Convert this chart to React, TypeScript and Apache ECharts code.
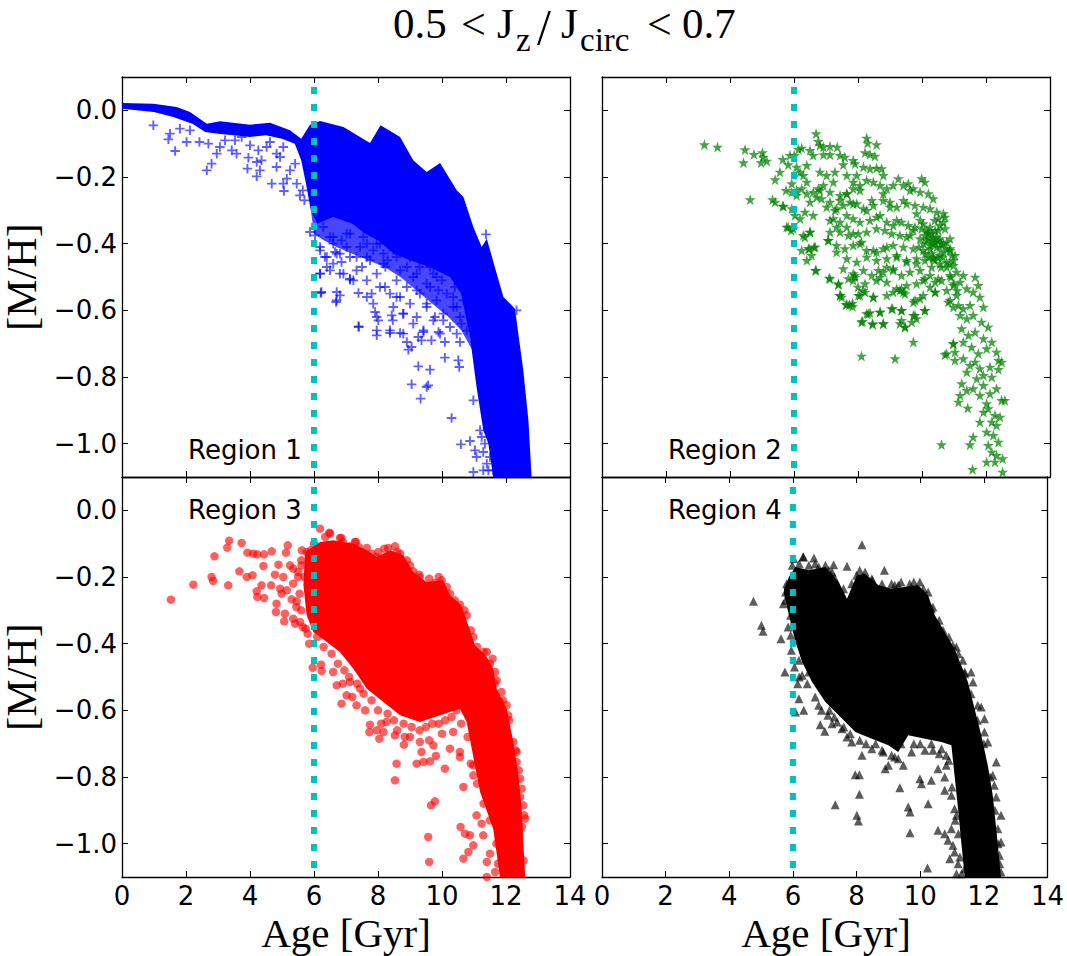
import React, { useEffect, useRef } from 'react';
import * as echarts from 'echarts';

// ---------- data ----------
const xTicks = [0, 2, 4, 6, 8, 10, 12, 14];
const yTicks = [-1.0, -0.8, -0.6, -0.4, -0.2, 0.0];
const xMin = 0;
const xMax = 14;
const yMin = -1.1;
const yMax = 0.1;
const cutAge = 6;
const regionNames = ['Region 1', 'Region 2', 'Region 3', 'Region 4'];

// dense core outlines (age, [M/H])
const region1Core = [
  [0, 0.022], [0.98, 0.02], [1.71, 0.01], [2.125, -0.005], [2.65, -0.04], [3.06, -0.033], [4.0, -0.043], [4.625, -0.037],
  [5.25, -0.06], [5.6, -0.085], [5.875, -0.043], [6.19, -0.032], [6.92, -0.05], [7.75, -0.098], [8.08, -0.045], [8.69, -0.08],
  [9.1, -0.15], [9.52, -0.185], [9.94, -0.158], [10.46, -0.24], [10.67, -0.26], [10.98, -0.35], [11.24, -0.41], [11.4, -0.385],
  [11.71, -0.49], [11.92, -0.56], [12.28, -0.595], [12.54, -0.78], [12.7, -0.93], [12.8, -1.1], [11.6, -1.1],
  [11.45, -1.0], [11.29, -0.96], [11.08, -0.83], [10.875, -0.68], [10.6, -0.55], [10.25, -0.5], [9.6, -0.47], [9.0, -0.45],
  [8.5, -0.43], [8.0, -0.39], [7.6, -0.37], [7.2, -0.34], [6.6, -0.32], [6.1, -0.34], [5.9, -0.3], [5.75, -0.22], [5.6, -0.15],
  [5.4, -0.1], [5.0, -0.085], [4.5, -0.075], [4.0, -0.08], [3.5, -0.075], [3.0, -0.07], [2.6, -0.065], [2.2, -0.04], [1.6, -0.02],
  [1.0, -0.005], [0, 0.005],
];

// semi-dense zone just below the Region 1 core
const region1Halo = [
  [5.9, -0.3], [7.2, -0.32], [8.5, -0.4], [9.6, -0.44], [10.6, -0.52], [10.95, -0.72], [10.6, -0.66], [10.2, -0.62],
  [9.7, -0.58], [9.2, -0.54], [8.7, -0.5], [8.2, -0.47], [7.7, -0.45], [7.2, -0.43], [6.7, -0.41], [6.3, -0.39], [6.0, -0.37],
];

const region3Core = [
  [5.72, -0.125], [6.19, -0.095], [6.6, -0.09], [7.23, -0.1], [7.65, -0.12], [7.96, -0.14], [8.38, -0.12], [8.79, -0.135],
  [9.1, -0.185], [9.52, -0.215], [10.04, -0.21], [10.25, -0.255], [10.6, -0.285], [10.82, -0.345], [11.03, -0.405], [11.4, -0.44],
  [11.6, -0.475], [11.71, -0.535], [12.02, -0.595], [12.23, -0.695], [12.39, -0.795], [12.49, -0.895], [12.54, -0.995], [12.6, -1.1],
  [11.81, -1.1], [11.6, -0.955], [11.19, -0.845], [10.93, -0.715], [10.77, -0.635], [10.56, -0.595], [9.94, -0.615], [9.31, -0.635],
  [8.69, -0.615], [8.17, -0.575], [7.65, -0.535], [7.23, -0.475], [6.81, -0.425], [6.4, -0.395], [5.98, -0.365], [5.77, -0.315],
  [5.67, -0.225],
];

const region4Core = [
  [5.72, -0.235], [5.875, -0.2], [6.08, -0.17], [6.5, -0.18], [7.02, -0.17], [7.44, -0.215], [7.7, -0.265], [8.01, -0.195],
  [8.27, -0.19], [8.69, -0.225], [9.1, -0.235], [9.52, -0.23], [9.94, -0.225], [10.25, -0.255], [10.46, -0.315], [10.77, -0.365],
  [11.08, -0.415], [11.29, -0.465], [11.5, -0.515], [11.71, -0.595], [11.92, -0.675], [12.125, -0.765], [12.28, -0.855], [12.39, -0.955],
  [12.54, -1.1], [11.4, -1.1], [11.29, -0.995], [11.19, -0.895], [11.08, -0.795], [10.98, -0.705], [10.67, -0.695], [10.15, -0.685],
  [9.625, -0.675], [9.31, -0.725], [9.0, -0.705], [8.48, -0.685], [7.96, -0.665], [7.44, -0.615], [7.02, -0.575], [6.6, -0.515],
  [6.29, -0.455], [6.08, -0.395], [5.875, -0.315], [5.72, -0.25],
];

const region1Points = [
  [0.98, -0.045], [1.5, -0.07], [1.45, -0.087], [1.66, -0.122], [1.81, -0.055], [2.02, -0.095], [2.125, -0.06], [2.42, -0.095],
  [2.65, -0.18], [2.7, -0.1], [2.8, -0.16], [2.96, -0.13], [3.06, -0.11], [3.22, -0.09], [3.43, -0.12], [3.58, -0.13], [3.53, -0.09],
  [3.95, -0.142], [3.92, -0.175], [4.21, -0.198], [4.31, -0.18], [4.0, -0.105], [4.36, -0.15], [4.26, -0.12], [4.68, -0.22],
  [4.83, -0.17], [4.94, -0.14], [5.04, -0.11], [5.04, -0.22], [5.15, -0.205], [5.06, -0.242], [5.25, -0.18], [5.41, -0.16],
  [5.46, -0.22], [5.56, -0.255], [4.625, -0.095], [4.83, -0.13], [4.52, -0.11], [3.74, -0.08], [4.21, -0.155], [5.7, -0.27], [5.65, -0.24],
  [5.875, -0.365], [6.03, -0.375], [6.19, -0.42], [6.29, -0.35], [6.5, -0.38], [6.6, -0.4], [6.4, -0.44], [6.71, -0.43], [6.86, -0.455],
  [6.81, -0.49], [7.02, -0.37], [7.125, -0.44], [7.33, -0.48], [7.44, -0.41], [7.65, -0.44], [7.54, -0.38], [7.96, -0.4], [8.17, -0.46],
  [8.27, -0.37], [8.48, -0.42], [8.69, -0.48], [8.79, -0.4], [9.0, -0.44], [9.21, -0.49], [9.42, -0.42], [9.625, -0.47], [9.83, -0.5],
  [10.04, -0.44], [10.25, -0.48], [11.375, -0.372], [6.4, -0.47], [6.5, -0.48],
  [6.19, -0.49], [6.21, -0.548], [6.71, -0.545], [6.69, -0.575], [6.81, -0.555], [7.125, -0.508], [7.39, -0.548], [7.39, -0.648],
  [7.65, -0.56], [7.85, -0.58], [7.91, -0.605], [7.96, -0.66], [8.01, -0.63], [7.96, -0.675], [8.22, -0.53], [8.43, -0.615],
  [8.46, -0.63], [8.375, -0.668], [8.69, -0.668], [8.58, -0.56], [8.79, -0.61], [8.9, -0.695], [8.95, -0.718], [9.05, -0.71],
  [9.1, -0.64], [9.26, -0.768], [9.05, -0.822], [9.36, -0.69], [9.42, -0.665], [9.625, -0.778], [9.57, -0.825], [9.52, -0.83],
  [9.33, -0.865], [9.67, -0.69], [9.78, -0.62], [9.89, -0.665], [10.09, -0.742], [10.09, -0.695], [10.3, -0.923], [10.51, -0.75],
  [10.54, -0.77], [10.56, -0.695], [10.61, -0.64], [10.59, -1.002], [10.875, -0.992], [10.98, -0.87], [11.03, -1.02], [11.08, -1.04],
  [10.98, -1.085], [11.19, -0.96], [11.29, -1.025], [11.4, -1.06], [12.33, -0.6], [10.35, -0.56], [10.46, -0.59], [9.52, -0.58],
  [10.04, -0.63], [9.21, -0.54], [9.52, -0.52], [9.89, -0.54], [11.24, -0.98], [11.34, -1.0], [11.5, -1.04], [11.6, -1.08],
  [11.45, -1.08], [11.29, -1.08],
  [6.19, -0.41], [6.34, -0.44], [6.6, -0.38], [6.6, -0.46], [6.66, -0.425], [6.92, -0.49], [6.86, -0.39], [7.125, -0.37],
  [7.125, -0.505], [7.02, -0.41], [7.33, -0.44], [7.5, -0.47], [7.65, -0.4], [7.75, -0.45], [7.8, -0.55], [7.96, -0.49],
  [8.06, -0.53], [8.17, -0.43], [8.23, -0.47], [8.375, -0.55], [8.48, -0.59], [8.58, -0.51], [8.69, -0.56], [8.79, -0.61],
  [8.9, -0.53], [9.0, -0.58], [9.1, -0.5], [9.21, -0.62], [9.31, -0.55], [9.42, -0.66], [9.52, -0.59], [9.625, -0.53],
  [9.73, -0.63], [9.83, -0.57], [9.94, -0.67], [10.04, -0.61], [10.15, -0.55], [10.25, -0.65], [10.35, -0.59], [10.46, -0.67],
  [10.56, -0.62], [10.67, -0.57], [10.77, -0.66], [7.96, -0.62], [7.4, -0.65], [6.71, -0.57], [6.23, -0.545], [6.19, -0.49],
  [7.23, -0.51], [8.375, -0.66], [8.79, -0.67], [9.26, -0.68], [6.81, -0.43], [8.06, -0.4], [8.58, -0.44], [7.65, -0.51],
  [9.16, -0.44], [9.73, -0.49], [8.9, -0.47], [9.3, -0.47], [10.0, -0.51], [10.4, -0.53], [8.3, -0.45], [7.85, -0.42],
];

const region2Points = [
  [3.2, -0.103], [3.61, -0.11], [4.47, -0.118], [4.75, -0.132], [4.42, -0.157], [5.01, -0.127], [5.04, -0.14], [4.97, -0.157],
  [5.15, -0.152], [4.63, -0.268], [5.33, -0.268], [5.41, -0.275], [5.65, -0.287], [5.41, -0.208], [5.56, -0.185], [5.65, -0.147],
  [5.82, -0.163], [5.875, -0.135], [5.77, -0.35], [5.91, -0.36], [5.75, -0.24], [5.93, -0.22], [6.01, -0.135], [6.14, -0.117],
  [6.24, -0.113], [6.08, -0.17], [6.19, -0.185], [6.29, -0.195], [6.4, -0.165], [5.93, -0.245], [6.08, -0.255], [6.24, -0.235],
  [6.4, -0.215], [5.93, -0.295], [6.03, -0.315], [6.19, -0.325], [6.34, -0.305], [6.5, -0.275], [6.6, -0.245], [6.76, -0.235],
  [6.86, -0.265], [6.6, -0.315], [6.5, -0.365], [6.34, -0.38], [6.48, -0.415], [6.625, -0.41], [6.4, -0.45], [6.67, -0.48],
  [6.24, -0.42], [6.69, -0.07], [6.76, -0.093], [6.81, -0.105], [6.92, -0.11], [7.125, -0.108], [7.35, -0.11], [7.125, -0.133],
  [6.92, -0.133], [6.6, -0.135], [6.5, -0.12], [7.44, -0.135], [7.59, -0.14], [7.85, -0.15], [7.91, -0.16], [7.54, -0.163],
  [8.27, -0.083], [8.3, -0.098], [8.58, -0.103], [8.22, -0.127], [8.375, -0.132], [8.53, -0.137], [8.17, -0.17], [8.375, -0.175],
  [8.58, -0.173], [8.74, -0.175], [8.79, -0.195], [7.65, -0.195], [7.96, -0.195], [7.85, -0.215], [7.23, -0.215], [7.02, -0.195],
  [6.81, -0.185], [7.28, -0.185],
  [6.92, -0.225], [7.125, -0.245], [7.44, -0.255], [7.65, -0.25], [7.85, -0.235], [8.06, -0.225], [8.27, -0.21], [8.48, -0.215],
  [8.69, -0.225], [8.9, -0.235], [9.1, -0.225], [9.26, -0.205], [9.42, -0.225], [9.57, -0.22], [9.73, -0.235], [9.99, -0.205],
  [10.09, -0.215], [9.94, -0.245], [10.2, -0.25], [10.35, -0.265], [7.125, -0.275], [7.33, -0.295], [7.54, -0.285], [7.75, -0.275],
  [7.96, -0.28], [8.17, -0.295], [8.48, -0.285], [8.79, -0.27], [9.0, -0.275], [9.21, -0.29], [9.52, -0.28], [9.78, -0.285],
  [10.04, -0.29], [10.25, -0.295], [10.46, -0.305], [10.67, -0.31], [7.23, -0.325], [7.44, -0.335], [7.65, -0.315], [7.85, -0.325],
  [8.06, -0.335], [8.375, -0.33], [8.69, -0.315], [8.9, -0.335], [9.1, -0.345], [9.36, -0.335], [9.57, -0.345], [9.78, -0.35],
  [9.99, -0.355], [10.2, -0.365], [10.41, -0.36], [10.56, -0.345], [10.72, -0.355], [7.125, -0.365], [7.44, -0.365], [7.7, -0.375],
  [8.01, -0.37], [8.27, -0.365], [8.58, -0.355], [8.84, -0.36], [9.05, -0.37], [9.31, -0.375], [9.625, -0.375], [9.94, -0.385],
  [10.15, -0.39], [10.35, -0.38], [10.56, -0.385], [10.77, -0.395], [10.875, -0.385], [7.07, -0.39], [7.33, -0.405], [7.59, -0.415],
  [7.85, -0.405], [8.11, -0.395], [8.48, -0.42], [8.79, -0.415], [9.1, -0.405], [9.42, -0.41], [9.73, -0.415], [10.04, -0.42],
  [10.25, -0.415], [10.46, -0.41], [10.67, -0.425], [10.875, -0.415], [11.03, -0.435],
  [10.09, -0.375], [10.2, -0.385], [10.3, -0.37], [10.41, -0.395], [10.51, -0.39], [10.35, -0.4], [10.25, -0.405], [10.61, -0.4],
  [10.77, -0.415], [10.93, -0.435], [10.98, -0.45], [10.67, -0.335], [10.51, -0.325], [10.72, -0.32],
  [7.33, -0.425], [7.65, -0.445], [7.96, -0.455], [8.27, -0.44], [8.58, -0.45], [8.9, -0.445], [9.21, -0.435], [9.52, -0.455],
  [9.83, -0.445], [10.09, -0.45], [10.35, -0.445], [7.54, -0.475], [7.85, -0.49], [8.17, -0.48], [8.43, -0.495], [8.79, -0.485],
  [9.1, -0.475], [9.36, -0.495], [9.625, -0.485], [9.94, -0.48], [10.25, -0.495], [10.51, -0.505], [7.1, -0.503], [7.39, -0.523],
  [7.7, -0.505], [7.91, -0.5], [8.22, -0.52], [8.58, -0.51], [8.9, -0.515], [9.21, -0.535], [9.52, -0.525], [9.83, -0.52],
  [10.09, -0.505], [10.41, -0.515], [7.44, -0.555], [7.73, -0.583], [7.625, -0.583], [7.83, -0.578], [8.01, -0.555], [8.22, -0.545],
  [8.48, -0.56], [8.9, -0.555], [9.1, -0.545], [9.31, -0.54], [9.42, -0.545], [9.73, -0.575], [10.04, -0.555], [10.41, -0.545],
  [8.27, -0.61], [8.375, -0.607], [8.69, -0.605], [9.08, -0.595], [9.36, -0.6], [9.78, -0.615], [10.09, -0.6], [8.11, -0.635],
  [8.45, -0.64], [8.79, -0.64], [9.36, -0.63], [9.47, -0.65], [9.68, -0.635], [9.73, -0.695], [8.11, -0.737], [9.16, -0.745],
  [10.56, -0.435], [10.77, -0.455], [10.98, -0.465], [11.08, -0.485], [11.29, -0.495], [11.66, -0.5], [11.76, -0.525], [10.875, -0.495],
  [10.98, -0.525], [11.19, -0.515], [11.4, -0.535], [11.6, -0.545], [11.81, -0.56], [10.82, -0.575], [11.08, -0.555], [11.14, -0.585],
  [11.29, -0.595], [11.5, -0.585], [11.92, -0.59], [11.19, -0.615], [11.4, -0.625], [11.6, -0.615], [11.86, -0.635], [12.07, -0.65],
  [11.24, -0.655], [11.45, -0.675], [11.66, -0.665], [11.92, -0.685], [12.18, -0.695], [11.29, -0.695], [11.55, -0.71], [11.76, -0.73],
  [12.02, -0.715], [10.98, -0.7], [10.72, -0.733], [11.03, -0.75], [11.29, -0.745], [11.5, -0.765], [11.66, -0.755], [11.81, -0.775],
  [12.125, -0.77], [12.39, -0.75], [12.33, -0.725], [12.49, -0.755], [11.4, -0.785], [11.71, -0.805], [11.92, -0.795], [12.18, -0.8],
  [12.39, -0.777], [11.24, -0.82], [11.19, -0.855], [11.4, -0.84], [11.6, -0.835], [11.92, -0.825], [12.125, -0.85], [12.33, -0.835],
  [11.14, -0.875], [11.43, -0.893], [11.81, -0.855], [12.02, -0.88], [12.49, -0.87], [12.59, -0.87], [11.92, -0.905], [12.07, -0.895],
  [12.28, -0.915], [12.44, -0.92], [11.81, -0.935], [12.18, -0.935], [12.33, -0.945], [11.6, -0.98], [11.5, -1.003], [12.02, -0.965],
  [12.23, -0.975], [12.39, -0.995], [12.07, -1.005], [12.18, -1.025], [12.33, -1.035], [12.28, -1.055], [12.02, -1.055], [12.52, -1.045],
  [11.58, -1.077], [12.52, -1.085], [10.61, -1.003],
  [5.67, -0.288], [5.82, -0.35], [5.98, -0.355], [6.29, -0.375], [6.5, -0.365], [6.45, -0.415], [6.66, -0.41], [6.55, -0.435],
  [6.69, -0.48], [7.07, -0.39], [7.125, -0.505], [7.39, -0.52], [7.44, -0.555], [7.49, -0.56], [7.65, -0.582], [7.83, -0.588],
  [7.85, -0.51], [7.9, -0.495], [8.0, -0.53], [8.06, -0.555], [8.16, -0.54], [8.32, -0.61], [8.14, -0.633], [8.46, -0.642],
  [8.48, -0.56], [8.69, -0.605], [8.79, -0.64], [8.64, -0.48], [8.69, -0.5], [8.9, -0.47], [9.1, -0.48], [9.05, -0.595],
  [9.36, -0.6], [9.31, -0.64], [9.47, -0.65], [9.73, -0.615], [9.83, -0.625], [9.36, -0.535], [9.47, -0.55], [9.78, -0.57],
  [9.94, -0.565], [10.09, -0.6], [10.04, -0.51], [10.25, -0.53], [10.41, -0.545], [10.61, -0.51], [10.77, -0.54], [10.875, -0.57],
  [10.98, -0.59], [10.35, -0.44], [10.56, -0.46], [10.77, -0.47], [10.98, -0.7], [11.03, -0.725], [10.77, -0.73],
  [6.08, -0.24], [6.4, -0.25], [6.71, -0.26], [6.81, -0.24], [7.02, -0.29], [7.28, -0.3], [7.44, -0.27], [7.65, -0.25],
  [7.85, -0.28], [8.06, -0.24], [8.27, -0.3], [8.43, -0.27], [8.58, -0.32], [8.79, -0.25], [9.0, -0.29], [9.21, -0.33],
  [9.42, -0.27], [9.625, -0.24], [9.83, -0.31], [10.04, -0.34], [10.2, -0.37], [10.35, -0.39], [10.51, -0.36], [10.67, -0.4],
  [10.875, -0.42], [7.65, -0.35], [7.85, -0.37], [8.06, -0.4], [8.27, -0.42], [8.58, -0.425], [8.9, -0.41], [9.21, -0.44],
  [9.52, -0.45], [9.83, -0.46], [7.33, -0.35], [7.125, -0.33], [9.52, -0.38], [9.73, -0.36],
  [10.1, -0.43], [10.2, -0.44], [10.3, -0.43], [10.4, -0.45], [10.5, -0.44], [10.6, -0.47], [10.15, -0.36], [10.25, -0.35],
  [10.45, -0.38], [10.55, -0.41], [10.65, -0.44], [10.85, -0.46], [10.9, -0.5], [11.0, -0.52], [11.1, -0.54], [10.05, -0.4],
  [9.9, -0.41], [9.95, -0.33], [10.4, -0.33], [10.3, -0.47],
];

const region3Points = [
  [1.53, -0.268], [2.23, -0.223], [2.8, -0.2], [2.85, -0.212], [2.89, -0.138], [3.32, -0.225], [3.29, -0.112], [3.35, -0.091],
  [3.74, -0.098], [3.67, -0.183], [3.9, -0.2], [4.08, -0.195], [3.92, -0.127], [4.1, -0.13], [4.23, -0.132], [4.44, -0.132],
  [4.42, -0.167], [4.21, -0.243], [4.23, -0.26], [4.36, -0.225], [4.44, -0.263], [4.68, -0.123], [4.66, -0.225], [4.78, -0.193],
  [4.89, -0.163], [4.81, -0.305], [5.04, -0.2], [4.99, -0.25], [5.09, -0.31], [5.07, -0.333], [5.125, -0.127], [5.18, -0.105],
  [5.25, -0.165], [5.35, -0.22], [5.3, -0.267], [5.35, -0.325], [5.41, -0.34], [5.46, -0.273], [5.56, -0.335], [5.51, -0.185],
  [5.74, -0.355], [5.85, -0.4], [5.96, -0.472], [6.22, -0.463], [6.24, -0.482], [6.19, -0.055], [6.5, -0.07], [6.86, -0.083],
  [7.28, -0.095], [5.77, -0.125], [5.35, -0.175], [5.61, -0.165], [5.15, -0.24], [4.83, -0.28], [4.94, -0.235],
  [6.6, -0.485], [6.71, -0.525], [6.86, -0.58], [7.02, -0.555], [7.125, -0.515], [7.33, -0.585], [7.44, -0.535], [7.73, -0.665],
  [7.75, -0.643], [7.96, -0.66], [8.04, -0.685], [8.17, -0.665], [8.27, -0.635], [8.53, -0.675], [8.84, -0.68], [8.81, -0.703],
  [8.58, -0.76], [8.53, -0.81], [9.21, -0.76], [9.36, -0.725], [9.42, -0.755], [9.625, -0.753], [9.81, -0.737], [10.09, -0.775],
  [9.31, -0.695], [9.73, -0.705], [10.25, -0.715], [10.35, -0.665], [10.56, -0.725], [10.56, -0.74], [10.35, -0.58], [10.67, -0.83],
  [9.66, -0.885], [9.78, -0.873], [9.57, -0.98], [9.6, -1.055], [10.58, -0.95], [10.72, -0.97], [10.875, -0.975], [10.98, -1.005],
  [10.825, -1.025], [10.67, -1.045], [11.08, -0.915], [11.24, -0.94], [11.29, -0.975], [11.4, -1.055], [11.5, -1.03], [11.4, -1.1],
  [11.66, -1.085], [10.98, -0.795], [10.98, -0.765],
  [11.4, -0.425], [11.58, -0.445], [11.66, -0.485], [11.71, -0.51], [12.02, -0.585], [12.07, -0.615], [12.23, -0.695], [12.33, -0.755],
  [12.44, -0.805], [12.49, -0.835], [12.44, -0.86], [12.54, -0.885], [12.57, -0.915], [12.6, -0.925], [12.33, -0.725], [11.86, -0.545],
  [11.81, -0.575],
  [6.48, -0.067], [6.81, -0.083], [7.125, -0.108], [7.31, -0.095], [7.65, -0.113], [8.32, -0.113], [8.53, -0.108], [8.69, -0.13],
  [8.9, -0.15], [9.1, -0.183], [9.29, -0.193], [9.78, -0.218], [9.99, -0.21], [10.25, -0.25], [10.56, -0.283], [10.77, -0.315],
  [10.98, -0.38], [11.19, -0.435], [7.96, -0.14], [8.01, -0.125],
  [6.1, -0.38], [6.3, -0.41], [6.55, -0.43], [6.75, -0.46], [6.95, -0.48], [7.1, -0.5], [7.35, -0.52], [7.55, -0.55],
  [7.8, -0.57], [8.0, -0.6], [8.3, -0.61], [8.5, -0.63], [8.8, -0.64], [9.05, -0.65], [9.3, -0.66], [9.5, -0.65],
  [9.7, -0.64], [9.9, -0.64], [10.1, -0.63], [10.3, -0.62], [10.45, -0.6], [6.9, -0.52], [7.2, -0.56], [7.6, -0.6],
  [8.1, -0.64], [8.6, -0.66], [9.0, -0.68], [9.6, -0.69], [10.0, -0.67],
  [5.9, -0.12], [6.0, -0.1], [6.35, -0.08], [6.9, -0.095], [7.4, -0.11], [7.8, -0.13], [8.2, -0.115], [8.6, -0.125],
  [9.0, -0.165], [9.3, -0.2], [9.6, -0.205], [9.9, -0.2], [10.15, -0.23], [10.4, -0.27], [10.7, -0.3], [10.9, -0.36],
  [11.1, -0.41], [11.3, -0.425], [11.5, -0.46], [11.65, -0.52], [11.9, -0.57], [12.1, -0.63], [12.3, -0.72], [12.4, -0.78],
  [12.5, -0.95], [12.55, -1.05],
  [11.5, -0.93], [11.3, -0.88], [11.1, -0.82], [10.9, -0.76], [10.8, -0.68], [10.6, -0.64], [11.7, -1.0], [11.75, -1.06],
  [5.6, -0.15], [5.55, -0.25], [5.6, -0.3], [5.65, -0.35], [5.8, -0.37], [5.5, -0.2], [5.7, -0.2], [5.45, -0.29], [5.62, -0.12],
];

const region4Points = [
  [4.76, -0.273], [5.01, -0.345], [5.06, -0.363], [5.625, -0.385], [5.75, -0.485], [8.17, -0.103], [6.33, -0.139], [6.66, -0.143],
  [7.28, -0.163], [7.7, -0.168], [8.875, -0.18], [6.86, -0.643], [7.0, -0.663], [7.96, -0.793], [8.09, -0.793], [8.09, -0.852],
  [7.33, -0.883], [8.01, -0.915], [8.06, -0.932], [9.36, -0.832], [9.625, -0.89], [9.68, -0.905], [9.68, -0.967], [10.23, -1.073],
  [10.25, -0.88], [10.56, -0.96], [8.9, -0.775], [9.0, -0.765], [9.99, -0.805], [10.04, -0.82], [10.35, -0.81], [10.56, -0.775],
  [10.77, -0.84],
  [5.77, -0.245], [5.77, -0.27], [5.93, -0.315], [5.93, -0.375], [6.19, -0.45], [6.29, -0.495], [6.34, -0.6], [6.08, -0.605],
  [6.19, -0.565], [6.5, -0.485], [6.81, -0.585], [7.1, -0.615], [7.23, -0.64], [7.39, -0.635], [7.54, -0.655], [7.7, -0.68],
  [7.85, -0.695], [8.17, -0.735], [8.48, -0.715], [8.84, -0.725], [9.1, -0.735], [9.31, -0.745], [9.47, -0.765], [9.73, -0.725],
  [10.15, -0.72], [10.35, -0.7], [10.67, -0.715], [10.82, -0.735], [10.82, -0.765], [10.77, -0.8], [10.98, -0.855], [11.08, -0.895],
  [11.14, -0.915], [10.98, -0.955], [10.77, -0.97], [10.875, -0.99], [11.03, -1.005], [11.08, -1.025], [10.93, -1.045], [11.19, -1.06],
  [11.14, -1.09], [11.4, -1.075],
  [11.4, -0.485], [11.6, -0.485], [11.66, -0.515], [11.81, -0.585], [11.92, -0.59], [12.02, -0.625], [12.02, -0.665], [12.125, -0.695],
  [12.39, -0.755], [12.28, -0.795], [12.33, -0.825], [12.39, -0.86], [12.54, -0.915], [12.44, -0.955], [12.54, -0.995], [12.49, -1.035],
  [12.54, -1.085], [11.34, -0.45], [11.14, -0.41], [11.03, -0.405],
  [5.98, -0.165], [6.03, -0.145], [6.32, -0.14], [6.5, -0.165], [6.81, -0.17], [7.02, -0.165], [7.125, -0.18], [7.23, -0.185],
  [7.59, -0.235], [8.0, -0.195], [8.27, -0.185], [8.48, -0.205], [9.1, -0.22], [9.31, -0.225], [9.67, -0.22], [9.99, -0.215],
  [10.25, -0.245], [10.35, -0.295], [10.72, -0.36],
  [6.2, -0.5], [6.45, -0.52], [6.7, -0.56], [6.9, -0.6], [7.15, -0.6], [7.3, -0.62], [7.6, -0.65], [7.8, -0.67],
  [8.1, -0.69], [8.3, -0.7], [8.6, -0.7], [8.8, -0.72], [9.2, -0.74], [9.4, -0.7], [9.8, -0.7], [10.0, -0.7],
  [10.4, -0.72], [10.6, -0.73], [10.9, -0.75], [11.0, -0.83], [11.1, -0.93], [11.2, -0.97], [11.25, -1.04], [11.3, -1.09],
  [6.2, -0.16], [6.7, -0.16], [7.3, -0.2], [7.5, -0.25], [7.85, -0.22], [8.1, -0.18], [8.5, -0.21], [8.8, -0.22],
  [9.2, -0.225], [9.4, -0.215], [9.8, -0.215], [10.1, -0.235], [10.4, -0.29], [10.6, -0.33], [10.9, -0.38], [11.2, -0.43],
  [11.4, -0.49], [11.6, -0.55], [11.8, -0.63], [12.0, -0.7], [12.2, -0.8], [12.35, -0.9], [12.45, -1.0], [12.5, -1.06],
  [5.8, -0.22], [5.7, -0.28], [5.85, -0.35], [5.95, -0.42], [6.05, -0.47], [6.15, -0.52],
];

// ---------- styling / layout ----------
const serif = "'Liberation Serif', 'DejaVu Serif', serif";
const sans = "'DejaVu Sans', 'Liberation Sans', sans-serif";
const plusSymbol = 'path://M4,0H6V4H10V6H6V10H4V6H0V4H4Z';
const starSymbol =
  'path://M50,0L61.23,34.55L97.55,34.55L68.16,55.9L79.39,90.45L50,69.1L20.61,90.45L31.84,55.9L2.45,34.55L38.77,34.55Z';

const grids = [
  { left: 122, top: 77, width: 448, height: 400 },
  { left: 602, top: 77, width: 448, height: 400 },
  { left: 122, top: 477, width: 448, height: 400 },
  { left: 602, top: 477, width: 448, height: 400 },
];

const panels = [
  { core: region1Core, halo: region1Halo, points: region1Points, symbol: plusSymbol, size: 9.5, color: 'rgba(0,0,255,0.78)', coreColor: '#0000FF', haloColor: 'rgba(0,0,255,0.72)' },
  { core: null, halo: null, points: region2Points, symbol: starSymbol, size: 11, color: 'rgba(0,128,0,0.9)', coreColor: '#008000', haloColor: '' },
  { core: region3Core, halo: null, points: region3Points, symbol: 'circle', size: 8.5, color: 'rgba(255,0,0,0.78)', coreColor: '#FF0000', haloColor: '' },
  { core: region4Core, halo: null, points: region4Points, symbol: 'triangle', size: 9, color: 'rgba(0,0,0,0.8)', coreColor: '#000000', haloColor: '' },
];

const titlePieces = [
  { t: '0.5', x: 393, s: 43, y: 23 },
  { t: '<', x: 461, s: 44, y: 24 },
  { t: 'J', x: 497, s: 43, y: 23 },
  { t: 'z', x: 516, s: 33, y: 40 },
  { t: '/', x: 537, s: 50, y: 27 },
  { t: 'J', x: 561, s: 43, y: 23 },
  { t: 'circ', x: 580, s: 33, y: 40 },
  { t: '<', x: 647, s: 44, y: 24 },
  { t: '0.7', x: 682, s: 43, y: 23 },
];

const fmtY = (v: number) => {
  const r = Math.round(v * 10) / 10;
  const s = Math.abs(r).toFixed(1);
  return r < 0 ? '\u2212' + s : s;
};

function polygonSeries(outline: number[][], axisIndex: number, fill: string, z: number) {
  return {
    type: 'custom',
    xAxisIndex: axisIndex,
    yAxisIndex: axisIndex,
    data: outline,
    clip: true,
    silent: true,
    z,
    renderItem: (params: any, api: any) => {
      if (params.dataIndex !== 0) return null;
      const pts = outline.map((c) => api.coord(c));
      return { type: 'polygon', shape: { points: pts }, style: { fill } };
    },
  };
}

function buildOption() {
  const xAxis: any[] = [];
  const yAxis: any[] = [];
  const series: any[] = [];
  const lineStyleAxis = { color: '#000', width: 1.3 };

  grids.forEach((_, i) => {
    const showX = i >= 2;
    const showY = i % 2 === 0;
    ['bottom', 'top'].forEach((pos) => {
      xAxis.push({
        gridIndex: i,
        type: 'value',
        position: pos,
        min: xMin,
        max: xMax,
        interval: 2,
        axisLine: { show: true, onZero: false, lineStyle: lineStyleAxis },
        axisTick: { show: true, inside: true, length: 6, lineStyle: { color: '#000', width: 1 } },
        axisLabel: {
          show: showX && pos === 'bottom',
          fontSize: 26,
          fontFamily: sans,
          color: '#000',
          margin: 6,
          formatter: (v: number) => (xTicks.includes(v) ? String(v) : ''),
        },
        splitLine: { show: false },
      });
    });
    ['left', 'right'].forEach((pos) => {
      yAxis.push({
        gridIndex: i,
        type: 'value',
        position: pos,
        min: yMin,
        max: yMax,
        axisLine: { show: true, onZero: false, lineStyle: lineStyleAxis },
        axisTick: { show: true, inside: true, length: 6, customValues: yTicks, lineStyle: { color: '#000', width: 1 } },
        axisLabel: {
          show: showY && pos === 'left',
          customValues: yTicks,
          fontSize: 26,
          fontFamily: sans,
          color: '#000',
          margin: 5,
          formatter: (v: number) => fmtY(v),
        },
        splitLine: { show: false },
      });
    });

    const p = panels[i];
    const xi = i * 2;
    if (p.halo) series.push(polygonSeries(p.halo, xi, p.haloColor, 1));
    if (p.core) series.push(polygonSeries(p.core, xi, p.coreColor, 2));
    series.push({
      type: 'scatter',
      xAxisIndex: xi,
      yAxisIndex: xi,
      data: p.points,
      symbol: p.symbol,
      symbolSize: p.size,
      itemStyle: { color: p.color },
      silent: true,
      clip: true,
      z: 3,
    });
    series.push({
      type: 'line',
      xAxisIndex: xi,
      yAxisIndex: xi,
      data: [
        [cutAge, yMax],
        [cutAge, yMin],
      ],
      symbol: 'none',
      silent: true,
      z: 5,
      lineStyle: { color: '#00BFBF', width: 6, type: [7, 10], dashOffset: 7.3, cap: 'butt' },
    });
  });

  const graphic: any[] = [];
  titlePieces.forEach((tp) => {
    graphic.push({
      type: 'text',
      x: tp.x,
      y: tp.y,
      silent: true,
      style: { text: tp.t, x: 0, y: 0, fill: '#000', font: `${tp.s}px ${serif}`, textAlign: 'left', textVerticalAlign: 'middle' },
    });
  });
  [277, 677].forEach((cy) => {
    graphic.push({
      type: 'text',
      x: 22,
      y: cy,
      rotation: Math.PI / 2,
      silent: true,
      style: { text: '[M/H]', x: 0, y: 0, fill: '#000', font: `42px ${serif}`, textAlign: 'center', textVerticalAlign: 'middle' },
    });
  });
  [346, 826].forEach((cx) => {
    graphic.push({
      type: 'text',
      x: cx,
      y: 933,
      silent: true,
      style: { text: 'Age [Gyr]', x: 0, y: 0, fill: '#000', font: `41px ${serif}`, textAlign: 'center', textVerticalAlign: 'middle' },
    });
  });
  const regionPos = [
    [188, 450],
    [668, 450],
    [188, 510],
    [668, 510],
  ];
  regionNames.forEach((name, i) => {
    graphic.push({
      type: 'text',
      x: regionPos[i][0],
      y: regionPos[i][1],
      silent: true,
      z: 10,
      style: { text: name, x: 0, y: 0, fill: '#000', font: `26px ${sans}`, textAlign: 'left', textVerticalAlign: 'middle' },
    });
  });

  return {
    animation: false,
    backgroundColor: '#ffffff',
    grid: grids,
    xAxis,
    yAxis,
    series,
    graphic,
  };
}

export default function App() {
  const ref = useRef<HTMLDivElement>(null);
  useEffect(() => {
    if (!ref.current) return;
    const chart = echarts.init(ref.current, null, { renderer: 'svg' });
    chart.setOption(buildOption() as any);
    return () => chart.dispose();
  }, []);
  return (
    <div
      ref={ref}
      style={{ position: 'absolute', left: 0, top: 0, width: 1067, height: 956, background: '#fff' }}
    />
  );
}
